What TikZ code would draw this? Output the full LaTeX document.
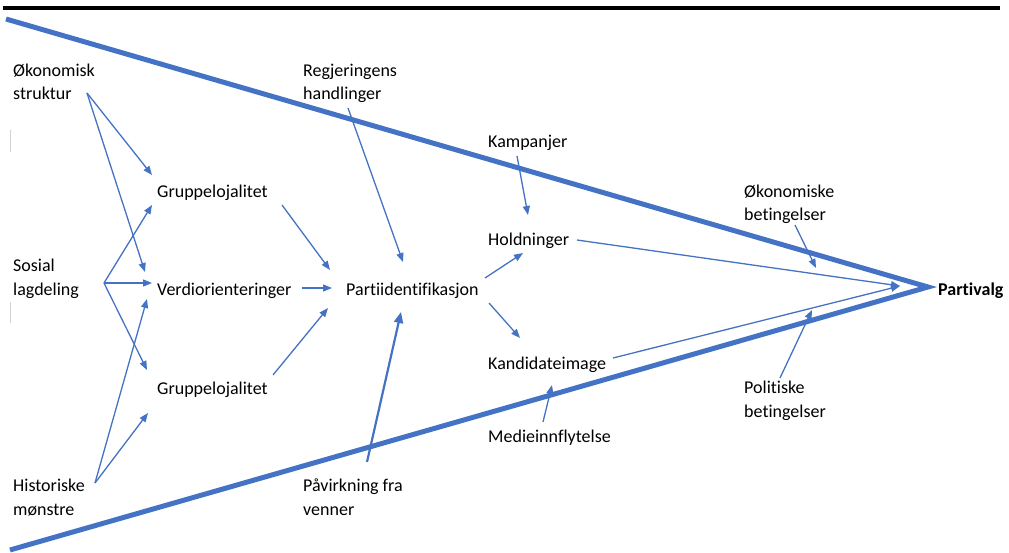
\documentclass[tikz,border=0pt]{standalone}
\usepackage{fontspec}
\setmainfont{Carlito}[Ligatures=NoCommon]
\usetikzlibrary{arrows.meta}
\definecolor{obl}{HTML}{4472C4}
\begin{document}
\begin{tikzpicture}[x=1pt,y=-1pt,
  lbl/.style={anchor=base west,inner sep=0pt,align=left,font=\fontsize{18}{23.5}\selectfont},
  arr/.style={draw=obl,line width=1.3pt,-{Triangle[length=9pt,width=7pt]}},
  warr/.style={draw=obl,line width=2.2pt,-{Triangle[length=11pt,width=9pt]}},
  big/.style={draw=obl,line width=5pt}]
\useasboundingbox (0,0) rectangle (1009,553);
% top rule
\draw[line width=3.5pt,black] (3,8) -- (1000,8);
% faint marks
\draw[gray!35,line width=1pt] (10,130) -- (10,152) (10,302) -- (10,323);
% text nodes
\node[lbl] (oek) at (13,100) {Økonomisk\\struktur};
\node[lbl] (sos) at (13,295) {Sosial\\lagdeling};
\node[lbl] (his) at (13,515) {Historiske\\mønstre};
\node[lbl] (gr1) at (157,198) {Gruppelojalitet};
\node[lbl] (ver) at (157,295) {Verdiorienteringer};
\node[lbl] (gr2) at (157,394) {Gruppelojalitet};
\node[lbl] (par) at (346,295) {Partiidentifikasjon};
\node[lbl] (reg) at (303,100) {Regjeringens\\handlinger};
\node[lbl] (kam) at (488,148) {Kampanjer};
\node[lbl] (hol) at (488,246) {Holdninger};
\node[lbl] (kan) at (488,369) {Kandidateimage};
\node[lbl] (med) at (488,442) {Medieinnflytelse};
\node[lbl] (pav) at (303,515) {Påvirkning fra\\venner};
\node[lbl] (okb) at (744,221) {Økonomiske\\betingelser};
\node[lbl] (pol) at (744,417) {Politiske\\betingelser};
\node[lbl,font=\fontsize{18}{23.5}\selectfont\bfseries] (pvg) at (938,295) {Partivalg};
% big funnel
\coordinate (tl) at (6,19);
\coordinate (bl) at (10,550);
\coordinate (apex) at (928,287);
\draw[big,line join=miter] (tl) -- (apex) -- (bl);
% arrow endpoints
\coordinate (oekO) at (87,93);
\coordinate (sosO) at (104,283);
\coordinate (hisO) at (95,483);
\coordinate (gr1I1) at (152,175);
\coordinate (gr1I2) at (152,205);
\coordinate (verI1) at (145,272);
\coordinate (verI2) at (152,283);
\coordinate (verI3) at (147,299);
\coordinate (gr2I1) at (147,370);
\coordinate (gr2I2) at (148,413);
\coordinate (gr1O) at (282,205);
\coordinate (verO) at (302,288);
\coordinate (gr2O) at (273,375);
\coordinate (parI1) at (330,270);
\coordinate (parI2) at (332,288);
\coordinate (parI3) at (328,308);
\coordinate (regO) at (348,108);
\coordinate (parI4) at (403,262);
\coordinate (pavO) at (367,462);
\coordinate (parI5) at (401,312);
\coordinate (parO1) at (485,278);
\coordinate (parO2) at (489,303);
\coordinate (holI1) at (523,253);
\coordinate (kanI1) at (520,338);
\coordinate (kamO) at (517,156);
\coordinate (holI2) at (528,215);
\coordinate (medO) at (543,422);
\coordinate (kanI2) at (552,385);
\coordinate (holO) at (577,240);
\coordinate (kanO) at (613,358);
\coordinate (pvgI) at (900,286);
\coordinate (okbO) at (795,225);
\coordinate (okbI) at (816,268);
\coordinate (polO) at (780,378);
\coordinate (polI) at (812,310);
% arrows
\draw[arr] (oekO) -- (gr1I1);
\draw[arr] (oekO) -- (verI1);
\draw[arr] (sosO) -- (gr1I2);
\draw[arr] (sosO) -- (verI2);
\draw[arr] (sosO) -- (gr2I1);
\draw[arr] (hisO) -- (verI3);
\draw[arr] (hisO) -- (gr2I2);
\draw[arr] (gr1O) -- (parI1);
\draw[arr] (verO) -- (parI2);
\draw[arr] (gr2O) -- (parI3);
\draw[arr] (regO) -- (parI4);
\draw[warr] (pavO) -- (parI5);
\draw[arr] (parO1) -- (holI1);
\draw[arr] (parO2) -- (kanI1);
\draw[arr] (kamO) -- (holI2);
\draw[arr] (medO) -- (kanI2);
\draw[arr] (holO) -- (pvgI);
\draw[arr] (kanO) -- (pvgI);
\draw[arr] (okbO) -- (okbI);
\draw[arr] (polO) -- (polI);
\end{tikzpicture}
\end{document}
